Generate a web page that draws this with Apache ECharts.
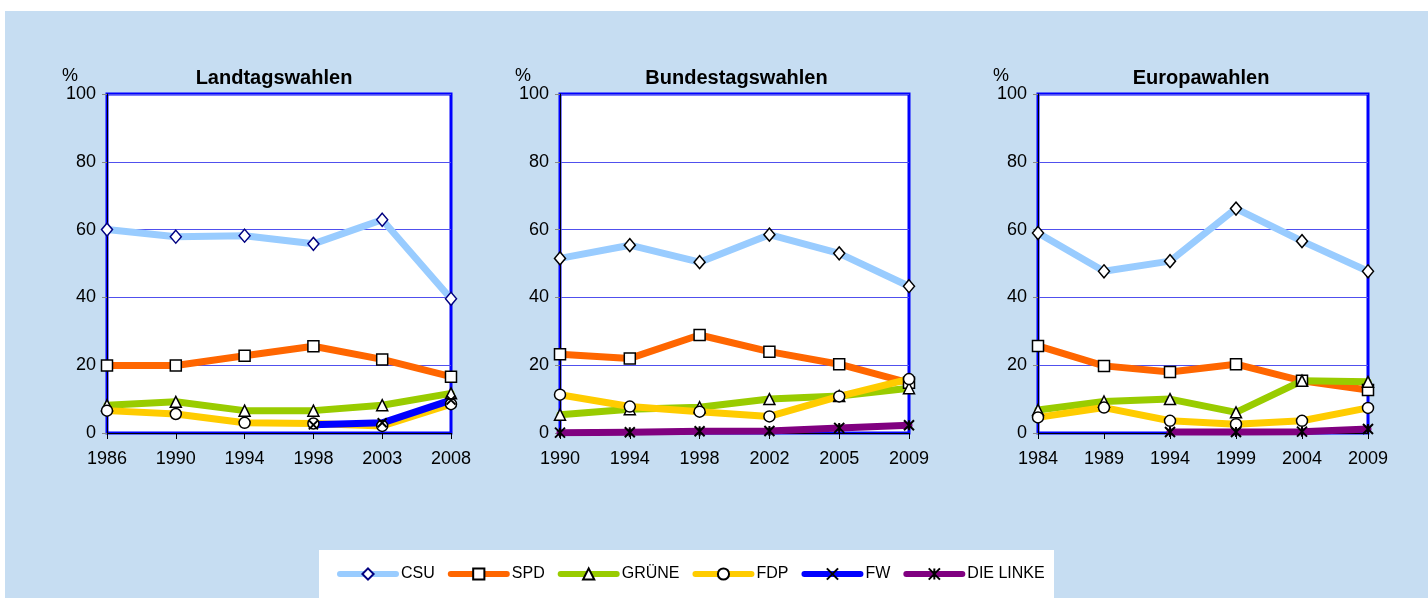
<!DOCTYPE html>
<html>
<head>
<meta charset="utf-8">
<script src="https://cdn.jsdelivr.net/npm/echarts@6/dist/echarts.min.js"></script>
<style>
  body { margin: 0; background: #fff; }
  #bg { position: absolute; left: 5px; top: 11px; width: 1423px; height: 587px; background: #c6ddf2; }
  #legbox { position: absolute; left: 319px; top: 550px; width: 735px; height: 48px; background: #fff; }
  #chart { position: absolute; left: 0; top: 0; width: 1428px; height: 598px; }
</style>
</head>
<body>
<div id="bg"></div>
<div id="legbox"></div>
<div id="chart"></div>
<script>
// categories
const yearsLT = ["1986", "1990", "1994", "1998", "2003", "2008"];
const yearsBT = ["1990", "1994", "1998", "2002", "2005", "2009"];
const yearsEU = ["1984", "1989", "1994", "1999", "2004", "2009"];
const titles = ["Landtagswahlen", "Bundestagswahlen", "Europawahlen"];

// Landtagswahlen (%)
const csuLT = [60.0, 57.9, 58.2, 55.8, 62.9, 39.6];
const spdLT = [19.9, 19.9, 22.8, 25.6, 21.7, 16.6];
const grueneLT = [8.2, 9.2, 6.6, 6.6, 8.2, 11.7];
const fdpLT = [6.6, 5.6, 3.0, 2.8, 2.1, 8.5];
const fwLT = [null, null, null, 2.4, 3.0, 9.7];

// Bundestagswahlen (%)
const csuBT = [51.5, 55.4, 50.4, 58.5, 53.0, 43.3];
const spdBT = [23.2, 22.0, 28.9, 24.0, 20.3, 14.8];
const grueneBT = [5.4, 7.0, 7.6, 10.0, 10.9, 13.2];
const fdpBT = [11.3, 7.8, 6.3, 4.9, 10.8, 15.9];
const linkeBT = [0.1, 0.2, 0.5, 0.6, 1.5, 2.3];

// Europawahlen (%)
const csuEU = [59.0, 47.7, 50.7, 66.2, 56.6, 47.7];
const spdEU = [25.7, 19.8, 18.0, 20.3, 15.4, 12.7];
const grueneEU = [6.8, 9.3, 10.0, 6.1, 15.4, 15.1];
const fdpEU = [4.6, 7.5, 3.6, 2.6, 3.6, 7.4];
const linkeEU = [null, null, 0.3, 0.3, 0.4, 1.2];

const parties = ["CSU", "SPD", "GRÜNE", "FDP", "FW", "DIE LINKE"];

const FONT = "Liberation Sans, Arial, sans-serif";

const partyStyle = {
  "CSU": { color: "#99ccff", symbol: "diamond", size: [11, 13], border: "#000080" },
  "SPD": { color: "#ff6600", symbol: "rect", size: 11, border: "#000" },
  "GRÜNE": { color: "#99cc00", symbol: "triangle", size: 11, border: "#000" },
  "FDP": { color: "#ffcc00", symbol: "circle", size: 11, border: "#000" },
  "FW": { color: "#0000ff", symbol: "path://M0,0L10,10M10,0L0,10", size: 9, border: "#000" },
  "DIE LINKE": { color: "#800080", symbol: "path://M0,0L10,10M10,0L0,10M5,0L5,10", size: 10, border: "#000" }
};

// plot rectangles
const grids = [
  { left: 107, top: 94, width: 344, height: 339 },
  { left: 560, top: 94, width: 349, height: 339 },
  { left: 1038, top: 94, width: 330, height: 339 }
];

function mk(name, idx, data, borderOverride) {
  const s = partyStyle[name];
  const isPath = s.symbol.indexOf("path://") === 0;
  return {
    name: name,
    type: "line",
    xAxisIndex: idx,
    yAxisIndex: idx,
    data: data,
    symbol: s.symbol,
    symbolSize: s.size,
    showAllSymbol: true,
    connectNulls: false,
    lineStyle: { color: s.color, width: 7, cap: "round", join: "round" },
    itemStyle: {
      color: isPath ? "#000" : "#fff",
      borderColor: borderOverride || s.border,
      borderWidth: isPath ? 2 : 1.5
    },
    emphasis: { disabled: true },
    animation: false
  };
}

const chart = echarts.init(document.getElementById("chart"), null, { renderer: "canvas" });

const cats = [yearsLT, yearsBT, yearsEU];

const option = {
  backgroundColor: "transparent",
  textStyle: { fontFamily: FONT },
  title: grids.map((g, i) => ({
    text: titles[i],
    left: g.left + g.width / 2 - (i === 0 ? 10 : i === 1 ? 3 : 7),
    textAlign: "center",
    top: 63,
    textStyle: { fontFamily: FONT, fontSize: 20, fontWeight: "bold", color: "#000" }
  })),
  grid: grids.map(g => ({
    left: g.left, top: g.top, width: g.width, height: g.height,
    show: true, backgroundColor: "#fff", borderColor: "#0000ff", borderWidth: 3,
    containLabel: false
  })),
  xAxis: grids.map((g, i) => ({
    type: "category",
    gridIndex: i,
    data: cats[i],
    boundaryGap: false,
    axisLine: { show: true, lineStyle: { color: "#000", width: 1 } },
    axisTick: { show: true, alignWithLabel: true, length: 6, lineStyle: { color: "#000" } },
    axisLabel: { color: "#000", fontSize: 18, fontFamily: FONT, margin: 17 },
    splitLine: { show: false }
  })),
  yAxis: grids.map((g, i) => ({
    type: "value",
    gridIndex: i,
    min: 0, max: 100, interval: 20,
    name: "%",
    nameLocation: "end",
    nameGap: 8,
    nameTextStyle: { color: "#000", fontSize: 18, fontFamily: FONT, align: "right", padding: [0, 29, 0, 0] },
    axisLine: { show: true, lineStyle: { color: "#000", width: 1 } },
    axisTick: { show: true, length: 5, lineStyle: { color: "#888" } },
    axisLabel: { color: "#000", fontSize: 18, fontFamily: FONT, margin: 11 },
    splitLine: { show: true, lineStyle: { color: "#5050ee", width: 1 } }
  })),
  legend: {
    data: parties,
    left: 332,
    top: 561,
    itemWidth: 56,
    itemHeight: 14,
    itemGap: 13,
    selectedMode: false,
    lineStyle: { width: 6, cap: "round" },
    textStyle: { color: "#000", fontSize: 16, fontFamily: FONT }
  },
  series: [
    mk("CSU", 0, csuLT),
    mk("SPD", 0, spdLT),
    mk("GRÜNE", 0, grueneLT),
    mk("FDP", 0, fdpLT),
    mk("FW", 0, fwLT),
    mk("CSU", 1, csuBT, "#000"),
    mk("SPD", 1, spdBT),
    mk("GRÜNE", 1, grueneBT),
    mk("FDP", 1, fdpBT),
    mk("DIE LINKE", 1, linkeBT),
    mk("CSU", 2, csuEU, "#000"),
    mk("SPD", 2, spdEU),
    mk("GRÜNE", 2, grueneEU),
    mk("FDP", 2, fdpEU),
    mk("DIE LINKE", 2, linkeEU)
  ]
};

chart.setOption(option);
</script>
</body>
</html>
